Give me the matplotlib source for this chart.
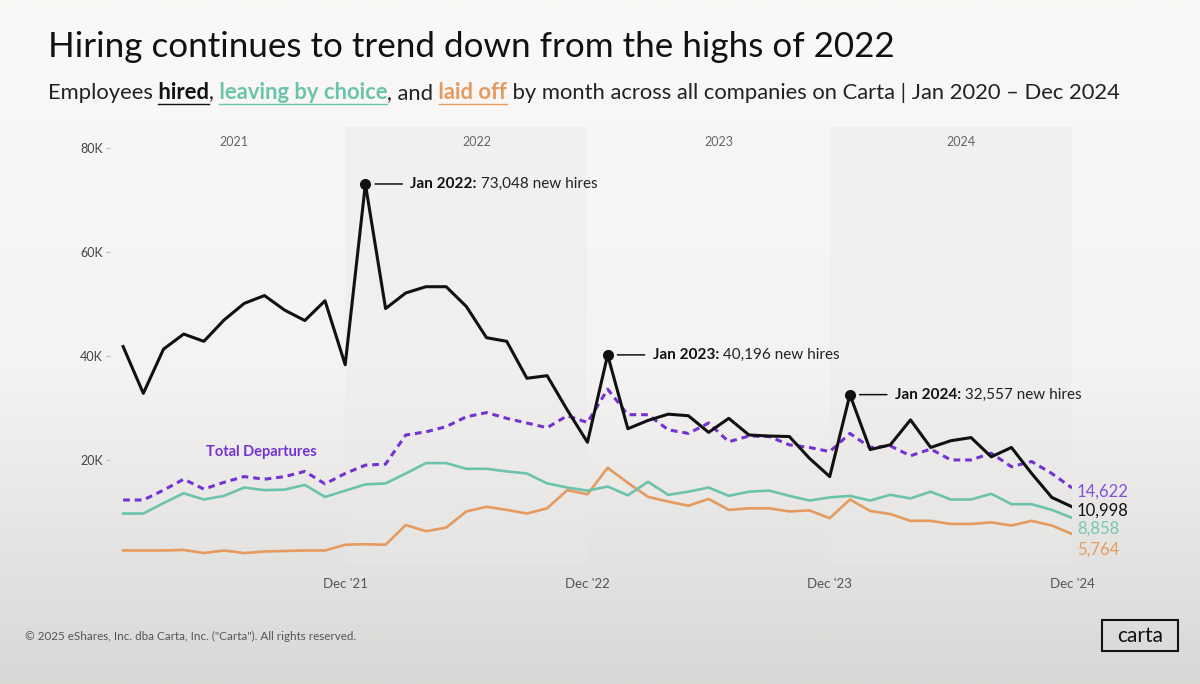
import matplotlib.pyplot as plt
import numpy as np
from matplotlib.lines import Line2D
from matplotlib.patches import Rectangle
from matplotlib.colors import LinearSegmentedColormap

plt.rcParams['font.family'] = ['Lato', 'DejaVu Sans']

# monthly values, Jan 2021 .. Dec 2024
hired = [41800, 32800, 41300, 44200, 42800, 46900, 50100, 51600, 48800, 46800, 50600, 38300,
         73048, 49100, 52100, 53300, 53300, 49500, 43500, 42800, 35700, 36200, 29600, 23400,
         40196, 26000, 27600, 28800, 28500, 25300, 28000, 24800, 24600, 24500, 20300, 16800,
         32557, 22000, 22900, 27700, 22400, 23700, 24300, 20600, 22400, 17400, 12800, 10998]
by_choice = [9700, 9700, 11700, 13600, 12400, 13100, 14700, 14200, 14300, 15200, 12900, 14100,
             15300, 15500, 17400, 19400, 19400, 18300, 18300, 17800, 17400, 15500, 14700, 14100,
             14900, 13200, 15800, 13300, 13900, 14700, 13100, 13900, 14100, 13100, 12200, 12800,
             13100, 12200, 13300, 12600, 13900, 12400, 12400, 13500, 11500, 11500, 10400, 8858]
laid_off = [2600, 2600, 2600, 2700, 2100, 2600, 2100, 2400, 2500, 2600, 2600, 3700,
            3800, 3700, 7500, 6300, 7000, 10100, 11000, 10400, 9700, 10700, 14200, 13400,
            18500, 15600, 12900, 12000, 11200, 12500, 10400, 10700, 10700, 10100, 10300, 8800,
            12400, 10200, 9600, 8300, 8300, 7700, 7700, 8000, 7400, 8300, 7400, 5764]
departures = [12300, 12300, 14200, 16300, 14400, 15700, 16800, 16300, 16800, 17800, 15400, 17400,
              19000, 19200, 24800, 25400, 26400, 28300, 29100, 28000, 27100, 26200, 28500, 27200,
              33600, 28700, 28700, 25800, 25100, 27100, 23500, 24600, 24500, 22900, 22400, 21600,
              25100, 22400, 22700, 20800, 22100, 20000, 20000, 21300, 18700, 19700, 17400, 14622]

years = ['2021', '2022', '2023', '2024']
dec_ticks = [11, 23, 35, 47]
dec_labels = ["Dec '21", "Dec '22", "Dec '23", "Dec '24"]
peaks = [(12, 'Jan 2022:', ' 73,048 new hires'),
         (24, 'Jan 2023:', ' 40,196 new hires'),
         (36, 'Jan 2024:', ' 32,557 new hires')]

BLACK = '#111111'
PURPLE = '#7432d2'
TEAL = '#6cc3ac'
ORANGE = '#e59a5f'

months = np.arange(len(hired))

fig = plt.figure(figsize=(12, 6.84), dpi=100)
r = fig.canvas.get_renderer()

# soft video-frame background
bg = fig.add_axes([0, 0, 1, 1], zorder=-10)
grad = np.linspace(0, 1, 300).reshape(-1, 1)
cmap = LinearSegmentedColormap.from_list('bg', [(0, '#faf9f7'), (0.55, '#f4f3f1'), (1, '#d8d8d6')])
bg.imshow(grad, aspect='auto', cmap=cmap, extent=[0, 1, 0, 1], origin='upper')
bg.axis('off')

ax = fig.add_axes([110 / 1200, 120 / 684, 962 / 1200, 437 / 684])
ax.set_facecolor('none')
ax.set_xlim(-0.65, 47)
ax.set_ylim(0, 84000)

# shaded year bands
ax.axvspan(11, 23, color='#e9e9e7', alpha=0.4, lw=0, zorder=0)
ax.axvspan(35, 47, color='#e9e9e7', alpha=0.4, lw=0, zorder=0)
for i, yr in enumerate(years):
    ax.text(5.5 + 12 * i, 81200, yr, ha='center', va='center', fontsize=9, color='#666666')

ax.plot(months, laid_off, color=ORANGE, lw=1.9, zorder=2)
ax.plot(months, by_choice, color=TEAL, lw=1.9, zorder=2)
ax.plot(months, departures, color=PURPLE, lw=2.2, ls=(0, (2.2, 1.6)), zorder=3)
ax.plot(months, hired, color=BLACK, lw=2.2, zorder=4)

ax.text(4.1, 21500, 'Total Departures', color=PURPLE, fontsize=10.5, fontweight='bold',
        ha='left', va='center')

# peak callouts
for idx, bold_txt, rest_txt in peaks:
    x, y = idx, hired[idx]
    ax.plot(x, y, 'o', color=BLACK, ms=7, zorder=5)
    ax.annotate('', xy=(x, y), xytext=(37 * 0.72, 0), textcoords='offset points',
                arrowprops=dict(arrowstyle='-', color=BLACK, lw=1.1, shrinkA=0, shrinkB=7))
    tb = ax.annotate(bold_txt, xy=(x, y), xytext=(45 * 0.72, 0), textcoords='offset points',
                     va='center', fontsize=11, fontweight='bold', color=BLACK)
    w = tb.get_window_extent(r).width * 0.72
    ax.annotate(rest_txt, xy=(x, y), xytext=(45 * 0.72 + w, 0), textcoords='offset points',
                va='center', fontsize=11, color='#222222')

# end-of-line values
for series, col, dy in [(departures, '#8450d6', -2.5), (hired, BLACK, -2.5),
                        (by_choice, '#78c6b2', -7.5), (laid_off, ORANGE, -11)]:
    ax.annotate(f'{series[-1]:,}', xy=(47, series[-1]), xytext=(3.5, dy),
                textcoords='offset points', va='center', ha='left', fontsize=12,
                color=col, annotation_clip=False)

ax.set_yticks([20000, 40000, 60000, 80000])
ax.set_yticklabels(['20K', '40K', '60K', '80K'])
ax.set_xticks(dec_ticks)
ax.set_xticklabels(dec_labels)
ax.tick_params(axis='y', length=3, width=0.8, color='#bbbbbb', labelcolor='#444444',
               labelsize=9, pad=2)
ax.tick_params(axis='x', length=0, labelcolor='#555555', labelsize=9.5, pad=10)
for s in ax.spines.values():
    s.set_visible(False)

# title + coloured subtitle
fig.text(48 / 1200, 1 - 57 / 684, 'Hiring continues to trend down from the highs of 2022',
         fontsize=25.2, color=BLACK, va='baseline', ha='left')

parts = [('Employees', '#222222', 'normal', False),
         (' hired', BLACK, 'bold', True),
         (',', '#222222', 'normal', False),
         (' leaving by choice', TEAL, 'bold', True),
         (', and', '#222222', 'normal', False),
         (' laid off', ORANGE, 'bold', True),
         (' by month across all companies on Carta | Jan 2020 \u2013 Dec 2024', '#222222', 'normal', False)]
sx = 48
base = 1 - 99 / 684
for txt, col, wt, ul in parts:
    t = fig.text(sx / 1200, base, txt, fontsize=15.8, color=col, fontweight=wt,
                 va='baseline', ha='left')
    w = t.get_window_extent(r).width
    if ul:
        word = fig.text(0, 0, txt.strip(), fontsize=15.8, fontweight=wt)
        ww = word.get_window_extent(r).width
        word.remove()
        fig.add_artist(Line2D([(sx + w - ww) / 1200, (sx + w) / 1200],
                              [1 - 104 / 684] * 2, color=col, lw=1.0))
    sx += w

fig.text(25 / 1200, 1 - 636 / 684,
         '\u00a9 2025 eShares, Inc. dba Carta, Inc. ("Carta"). All rights reserved.',
         fontsize=8.4, color='#555555', va='center', ha='left')

fig.add_artist(Rectangle((1102 / 1200, 1 - 651 / 684), 76 / 1200, 31 / 684,
                         transform=fig.transFigure, fill=False, ec=BLACK, lw=1.5))
fig.text(1140 / 1200, 1 - 636 / 684, 'carta', fontsize=15, color=BLACK,
         ha='center', va='center')

fig.savefig('out.png', dpi=100)
